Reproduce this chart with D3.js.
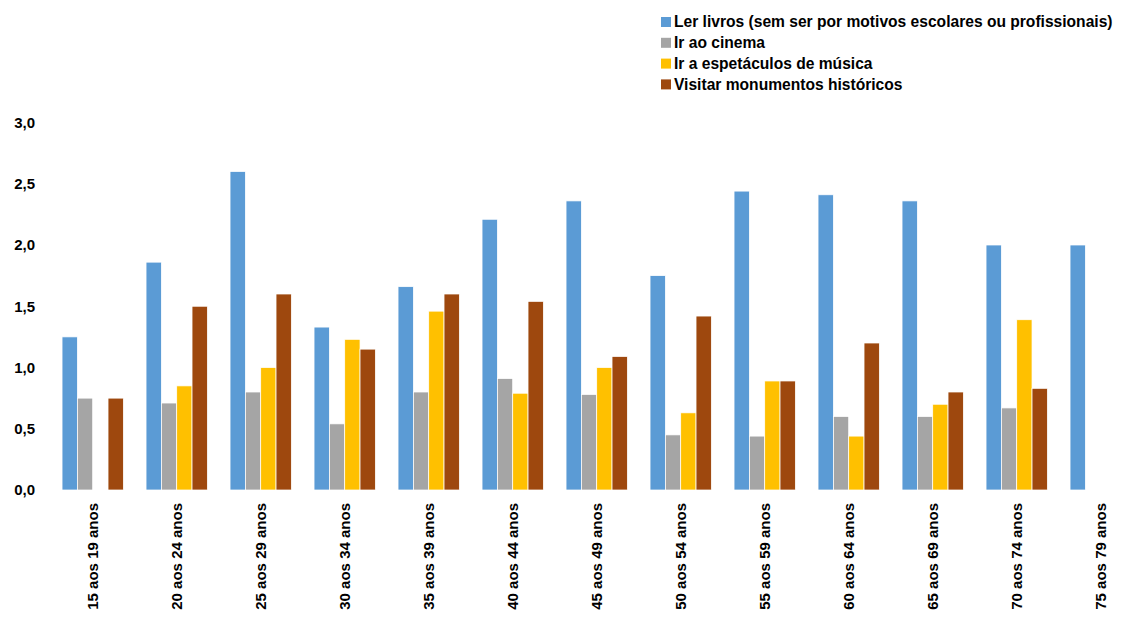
<!DOCTYPE html>
<html>
<head>
<meta charset="utf-8">
<script src="https://cdn.jsdelivr.net/npm/d3@7"></script>
<style>
  html, body { margin: 0; padding: 0; background: #fff; }
  svg text { font-family: "Liberation Sans", Arial, sans-serif; font-weight: bold; fill: #000; }
</style>
</head>
<body>
<svg id="chart" width="1135" height="625"></svg>
<script>
// Age groups
const categories = ["15 aos 19 anos", "20 aos 24 anos", "25 aos 29 anos", "30 aos 34 anos",
  "35 aos 39 anos", "40 aos 44 anos", "45 aos 49 anos", "50 aos 54 anos", "55 aos 59 anos",
  "60 aos 64 anos", "65 aos 69 anos", "70 aos 74 anos", "75 aos 79 anos"];

const seriesNames = [
  "Ler livros (sem ser por motivos escolares ou profissionais)",
  "Ir ao cinema",
  "Ir a espetáculos de música",
  "Visitar monumentos históricos"
];

// Average values per age group (null = no value)
const lerLivros   = [1.25, 1.86, 2.60, 1.33, 1.66, 2.21, 2.36, 1.75, 2.44, 2.41, 2.36, 2.00, 2.00];
const irCinema    = [0.75, 0.71, 0.80, 0.54, 0.80, 0.91, 0.78, 0.45, 0.44, 0.60, 0.60, 0.67, null];
const irMusica    = [null, 0.85, 1.00, 1.23, 1.46, 0.79, 1.00, 0.63, 0.89, 0.44, 0.70, 1.39, null];
const monumentos  = [0.75, 1.50, 1.60, 1.15, 1.60, 1.54, 1.09, 1.42, 0.89, 1.20, 0.80, 0.83, null];

const yTicks = [0, 0.5, 1.0, 1.5, 2.0, 2.5, 3.0];
const colors = ["#5B9BD5", "#A5A5A5", "#FFC000", "#9E480E"];

const seriesValues = [lerLivros, irCinema, irMusica, monumentos];

const svg = d3.select("#chart");

const x = d3.scaleBand()
  .domain(categories)
  .range([50.7, 1142.7])
  .paddingInner(0.27)
  .paddingOuter(0.135);

const xs = d3.scaleBand()
  .domain(d3.range(seriesNames.length))
  .range([0, x.bandwidth()])
  .padding(0);

const y = d3.scaleLinear().domain([0, 3]).range([490, 122.5]);

// Bars
const groups = svg.append("g")
  .selectAll("g")
  .data(categories)
  .join("g")
  .attr("transform", d => `translate(${x(d)},0)`);

groups.selectAll("rect")
  .data((d, i) => seriesValues.map((vals, s) => ({ s, v: vals[i] })).filter(e => e.v != null))
  .join("rect")
  .attr("x", d => xs(d.s))
  .attr("width", xs.bandwidth())
  .attr("y", d => y(d.v))
  .attr("height", d => y(0) - y(d.v))
  .attr("fill", d => colors[d.s])
  .attr("stroke", "#fff")
  .attr("stroke-width", 0.75);

// Y axis (labels only)
const yAxis = d3.axisLeft(y)
  .tickValues(yTicks)
  .tickSize(0)
  .tickPadding(0)
  .tickFormat(d => d3.format(".1f")(d).replace(".", ","));

svg.append("g")
  .attr("transform", "translate(35,0)")
  .call(yAxis)
  .call(g => g.select(".domain").remove())
  .selectAll("text")
  .style("font-size", "15px")
  .style("font-family", "'Liberation Sans', Arial, sans-serif")
  .style("font-weight", "bold")
  .attr("fill", "#000");

// X axis (rotated labels)
const xAxis = d3.axisBottom(x).tickSize(0).tickPadding(0);
svg.append("g")
  .attr("transform", "translate(0,490)")
  .call(xAxis)
  .call(g => g.select(".domain").remove())
  .selectAll("text")
  .style("font-size", "15px")
  .style("font-family", "'Liberation Sans', Arial, sans-serif")
  .style("font-weight", "bold")
  .attr("fill", "#000")
  .attr("text-anchor", "end")
  .attr("transform", "rotate(-90)")
  .attr("x", -13)
  .attr("y", 0)
  .attr("dy", "0.35em");

// Legend
const legend = svg.append("g").attr("transform", "translate(661,22)");
const item = legend.selectAll("g")
  .data(seriesNames)
  .join("g")
  .attr("transform", (d, i) => `translate(0,${i * 20.8})`);

item.append("rect")
  .attr("x", 0)
  .attr("y", -5)
  .attr("width", 10)
  .attr("height", 10)
  .attr("fill", (d, i) => colors[i]);

item.append("text")
  .attr("x", 13)
  .attr("y", 0)
  .attr("dy", "0.35em")
  .style("font-size", "15.6px")
  .text(d => d);
</script>
</body>
</html>
